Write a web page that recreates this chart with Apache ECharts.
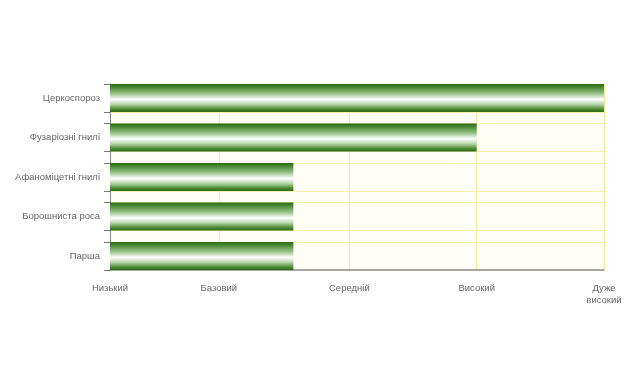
<!DOCTYPE html>
<html><head><meta charset="utf-8">
<script src="https://cdn.jsdelivr.net/npm/echarts@6/dist/echarts.min.js"></script>
<style>html,body{margin:0;padding:0;background:#fff}#c{width:640px;height:386px}</style>
</head><body><div id="c"></div>
<script>
// Data
var categories = ['Церкоспороз', 'Фузаріозні гнилі', 'Афаноміцетні гнилі', 'Борошниста роса', 'Парша'];
var values = [4, 3, 1.56, 1.56, 1.56];
var levelNames = ['Низький', 'Базовий', 'Середній', 'Високий', 'Дуже\nвисокий'];
var levelValues = [0.12, 0.975, 2, 3, 4];

// Layout constants
var X_MIN = 0.12, X_MAX = 4;
var HALF = 14 / 39.5; // bar half-thickness in category units
var edges = [];
for (var i = 0; i < categories.length; i++) { edges.push(i - HALF, i + HALF); }

var font = 'Liberation Sans, Arial, sans-serif';
var barGrad = new echarts.graphic.LinearGradient(0, 0, 0, 1, [
  {offset: 0, color: '#2c6817'},
  {offset: 0.12, color: '#4a8934'},
  {offset: 0.35, color: '#9cc58c'},
  {offset: 0.55, color: '#ffffff'},
  {offset: 0.72, color: '#b9d8ac'},
  {offset: 0.9, color: '#4a8934'},
  {offset: 1, color: '#2c6817'}
]);

var chart = echarts.init(document.getElementById('c'), null, {renderer: 'canvas'});
chart.setOption({
  animation: false,
  grid: [
    {left: 110, top: 84, width: 494, height: 186, show: true, backgroundColor: '#fffef6', borderWidth: 0, containLabel: false},
    {left: 110, top: 84 - 39.5 * (0.5 - HALF), width: 494, height: 39.5 * 5, show: false, containLabel: false}
  ],
  xAxis: [
    {
      type: 'value', gridIndex: 0, min: X_MIN, max: X_MAX, z: 5,
      axisLine: {show: true, onZero: false, lineStyle: {color: '#8a8a8a', width: 1.5}},
      axisTick: {show: false, customValues: levelValues.slice(1)},
      splitLine: {show: true, lineStyle: {color: '#f3ee9c', width: 1}},
      axisLabel: {
        customValues: levelValues, margin: 12, color: '#666', fontFamily: font, fontSize: 9.5, lineHeight: 12,
        formatter: function (v) {
          for (var k = 0; k < levelValues.length; k++) if (Math.abs(levelValues[k] - v) < 1e-6) return levelNames[k];
          return '';
        }
      }
    },
    {type: 'value', gridIndex: 1, min: X_MIN, max: X_MAX, show: false}
  ],
  yAxis: [
    {
      type: 'value', gridIndex: 0, inverse: true, min: -HALF, max: categories.length - 1 + HALF, z: 2,
      axisLine: {show: true, onZero: false, lineStyle: {color: '#8a8a8a', width: 1}},
      axisTick: {show: true, length: 6, customValues: edges, lineStyle: {color: '#777'}},
      splitLine: {show: true, lineStyle: {color: '#f6f1b0', width: 1}},
      axisLabel: {show: false, customValues: edges}
    },
    {
      type: 'category', gridIndex: 1, inverse: true, data: categories,
      axisLine: {show: false}, axisTick: {show: false}, splitLine: {show: false},
      axisLabel: {margin: 10, color: '#666', fontFamily: font, fontSize: 9.5}
    }
  ],
  series: [{
    type: 'bar', xAxisIndex: 1, yAxisIndex: 1, data: values, barWidth: 28, z: 10,
    itemStyle: {color: barGrad}
  }]
});
</script></body></html>
